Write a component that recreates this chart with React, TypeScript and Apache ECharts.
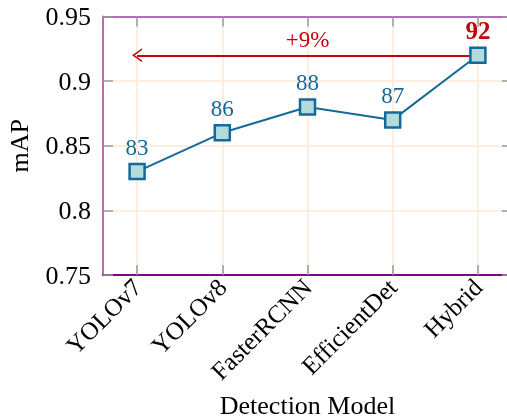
import React, { useEffect, useRef } from "react";
import * as echarts from "echarts";

const categories = ["YOLOv7", "YOLOv8", "FasterRCNN", "EfficientDet", "Hybrid"];
const mapValues = [0.83, 0.86, 0.88, 0.87, 0.92];
const yTicks = [0.75, 0.8, 0.85, 0.9, 0.95];
const gainText = "+9%";

const BLUE = "#14699b";
const RED = "#c3000b";
const FONT = "'Liberation Serif', 'Times New Roman', serif";

export default function App() {
  const ref = useRef<HTMLDivElement>(null);
  useEffect(() => {
    if (!ref.current) return;
    const chart = echarts.init(ref.current, null, { renderer: "svg" });
    const idx = categories.map((_, i) => i);
    const tickStyle = { show: true, inside: true, length: 10, lineStyle: { color: "#999999", width: 1.5 } };
    const grid = "#ffe9d6";
    const data = mapValues.map((v, i) =>
      i === mapValues.length - 1
        ? { value: [i, v], label: { color: RED, fontWeight: "bold", fontSize: 25 } }
        : { value: [i, v] }
    );
    chart.setOption({
      animation: false,
      grid: { left: 103, right: -5, top: 16.5, bottom: 144, containLabel: false, outerBoundsMode: "none" },
      xAxis: [
        {
          type: "value",
          min: -0.4,
          max: 4.4,
          position: "bottom",
          name: "Detection Model",
          nameLocation: "middle",
          nameGap: 117,
          nameTextStyle: { fontFamily: FONT, fontSize: 26, color: "#000" },
          axisLine: { show: true, onZero: false, lineStyle: { color: "#7d0a7d", width: 2 } },
          axisTick: { ...tickStyle, customValues: idx },
          axisLabel: {
            customValues: idx,
            rotate: 45,
            margin: 8,
            fontFamily: FONT,
            fontSize: 25,
            color: "#000",
            formatter: (v: number) => categories[Math.round(v)] ?? "",
          },
          splitLine: { show: true, lineStyle: { color: grid, width: 1.5 } },
        },
        {
          type: "value",
          min: -0.4,
          max: 4.4,
          position: "top",
          axisLine: { show: true, onZero: false, lineStyle: { color: "#b46bb8", width: 2 } },
          axisTick: { ...tickStyle, customValues: idx },
          axisLabel: { show: false, customValues: idx },
          splitLine: { show: false },
        },
      ],
      yAxis: [
        {
          type: "value",
          min: 0.75,
          max: 0.95,
          interval: 0.05,
          name: "mAP",
          nameLocation: "middle",
          nameGap: 71,
          nameTextStyle: { fontFamily: FONT, fontSize: 26, color: "#000" },
          axisLine: { show: true, onZero: false, lineStyle: { color: "#b46bb8", width: 2 } },
          axisTick: tickStyle,
          axisLabel: {
            margin: 12,
            fontFamily: FONT,
            fontSize: 26,
            color: "#000",
            formatter: (v: number) => String(yTicks.find((t) => Math.abs(t - v) < 1e-6) ?? v),
          },
          splitLine: { show: true, lineStyle: { color: grid, width: 1.5 } },
        },
        {
          type: "value",
          min: 0.75,
          max: 0.95,
          interval: 0.05,
          position: "right",
          axisLine: { show: true, onZero: false, lineStyle: { color: "#b46bb8", width: 2 } },
          axisTick: tickStyle,
          axisLabel: { show: false },
          splitLine: { show: false },
        },
      ],
      series: [
        {
          type: "line",
          data,
          symbol: "rect",
          symbolSize: 15,
          lineStyle: { color: BLUE, width: 2 },
          itemStyle: { color: "#b3dbdb", borderColor: BLUE, borderWidth: 2.5 },
          label: {
            show: true,
            position: "top",
            distance: 4,
            fontFamily: FONT,
            fontSize: 23,
            color: BLUE,
            formatter: (p: any) => String(Math.round(p.value[1] * 100)),
          },
          z: 5,
          markLine: {
            silent: true,
            symbol: ["none", "path://M0,10 L6,0 L12,10 L10.5,10 L6,2.6 L1.5,10 Z"],
            symbolSize: [14, 10],
            lineStyle: { color: RED, width: 2, type: "solid" },
            label: {
              show: true,
              position: "middle",
              formatter: gainText,
              color: RED,
              fontFamily: FONT,
              fontSize: 23,
              distance: 4,
            },
            data: [
              [
                { coord: [categories.length - 1, mapValues[mapValues.length - 1]] },
                { coord: [0, mapValues[mapValues.length - 1]] },
              ],
            ],
          },
        },
      ],
    });
    return () => chart.dispose();
  }, []);
  return <div ref={ref} style={{ position: "fixed", left: 0, top: 0, width: 507, height: 419 }} />;
}
